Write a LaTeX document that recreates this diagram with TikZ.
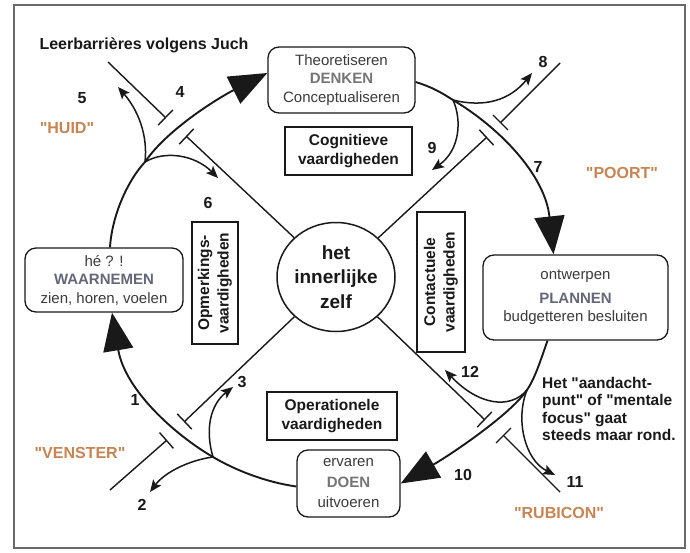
\documentclass[tikz,border=0pt]{standalone}
\usepackage{fontspec}
\setmainfont{Liberation Sans}[Ligatures=TeXOff]
\usetikzlibrary{arrows.meta,shapes.geometric}
\definecolor{framegray}{RGB}{105,105,105}
\definecolor{wordgray}{RGB}{100,103,122}
\definecolor{orangelbl}{RGB}{200,132,82}
\definecolor{ink}{RGB}{25,25,25}
\begin{document}
\begin{tikzpicture}[x=1pt,y=-1pt,
  cycleline/.style={line width=1.9pt, draw=ink},
  bigarrow/.style={-{Triangle[length=38pt,width=30pt]}},
  branch/.style={line width=1.5pt, draw=ink, -{Stealth[length=12pt,width=10pt,inset=2.5pt]}},
  barrier/.style={line width=1.4pt, draw=ink},
  stagebox/.style={draw=ink, line width=1.3pt, rounded corners=11pt, align=center, inner sep=0pt, text=ink!85, font=\fontsize{15}{18.5}\selectfont},
  skillbox/.style={draw=ink, line width=1.3pt, align=center, inner sep=0pt, text=ink, font=\bfseries\fontsize{15.5}{19.5}\selectfont},
  num/.style={font=\bfseries\fontsize{16}{19}\selectfont, text=ink, inner sep=0pt},
  gate/.style={font=\bfseries\fontsize{16}{19}\selectfont, text=orangelbl, inner sep=0pt}
]
\useasboundingbox (0,0) rectangle (690,552);
\fill[white] (0,0) rectangle (690,552);
\draw[framegray, line width=1.6pt] (14,5) rectangle (685,548);

% title
\node[font=\bfseries\fontsize{16}{19}\selectfont, text=ink, inner sep=0pt] (title) at (144,45) {Leerbarrières volgens Juch};

% stage boxes
\node[stagebox, minimum width=158pt, minimum height=64pt] (waar) at (104,280)
  {hé ? !\\{\color{wordgray}\bfseries WAARNEMEN}\\zien, horen, voelen};
\node[stagebox, minimum width=147pt, minimum height=66pt] (denk) at (341.5,80)
  {Theoretiseren\\{\color{ink!60}\bfseries DENKEN}\\Conceptualiseren};
\node[stagebox, minimum width=185pt, minimum height=85pt] (plan) at (575.5,297.5)
  {ontwerpen\\[5pt]{\color{wordgray}\bfseries PLANNEN}\\budgetteren besluiten};
\node[stagebox, minimum width=103pt, minimum height=67pt] (doen) at (348.5,483.5)
  {ervaren\\[2pt]{\color{ink!60}\bfseries DOEN}\\[2pt]uitvoeren};

% skill boxes
\node[skillbox, minimum width=127pt, minimum height=48pt] (cogn) at (348.5,151) {Cognitieve\\vaardigheden};
\node[skillbox, rotate=90, minimum width=122pt, minimum height=46pt] (opm) at (215,283) {Opmerkings-\\vaardigheden};
\node[skillbox, rotate=90, minimum width=140pt, minimum height=48pt] (cont) at (441,282) {Contactuele\\vaardigheden};
\node[skillbox, minimum width=130pt, minimum height=48pt] (oper) at (332,416) {Operationele\\vaardigheden};

% centre
\node[ellipse, draw=ink, line width=1.5pt, minimum width=118pt, minimum height=109pt, inner sep=0pt, align=center,
  font=\bfseries\fontsize{19}{24.5}\selectfont, text=ink] (self) at (336,277) {het\\innerlijke\\zelf};

% junctions and free ends
\coordinate (J1) at (145,162);
\coordinate (J2) at (453,100);
\coordinate (J3) at (527,390);
\coordinate (J4) at (213,457);

\coordinate (bULi) at (186,136); \coordinate (bULo) at (166,118); \coordinate (eUL) at (108,62);
\coordinate (bURi) at (487,137); \coordinate (bURo) at (500,123); \coordinate (eUR) at (560,63);
\coordinate (bLRi) at (485,420); \coordinate (bLRo) at (503,435); \coordinate (eLR) at (560,492);
\coordinate (bLLi) at (184,422); \coordinate (bLLo) at (167,440); \coordinate (eLL) at (110,490);

\coordinate (t5) at (118,87);
\coordinate (t6) at (218,178);
\coordinate (t8) at (532,73);
\coordinate (t9) at (432,170);
\coordinate (t12) at (445,370);
\coordinate (t11) at (555,475);
\coordinate (t3) at (233,387);
\coordinate (t2) at (150,492);

% main cycle
\draw[cycleline, bigarrow] ([xshift=6pt]waar.north) .. controls (112,215) and (128,180) .. (J1)
  .. controls (168,128) and (222,96) .. ([yshift=7pt]denk.west);
\draw[cycleline, bigarrow] ([yshift=-2pt]denk.east) .. controls (435,88) and (445,95) .. (J2)
  .. controls (500,128) and (545,175) .. ([xshift=-22pt]plan.north);
\draw[cycleline, bigarrow] ([xshift=-28pt]plan.south) .. controls (540,362) and (535,378) .. (J3)
  .. controls (510,415) and (450,455) .. (doen.east);
\draw[cycleline, bigarrow] ([yshift=-3pt]doen.west) .. controls (265,482) and (235,470) .. (J4)
  .. controls (175,435) and (125,390) .. ([xshift=8pt]waar.south);

% branches
\draw[branch] (J1) .. controls (148,135) and (138,110) .. (t5);
\draw[branch] (J1) .. controls (165,150) and (195,155) .. (t6);
\draw[branch] (J2) .. controls (485,108) and (510,100) .. (t8);
\draw[branch] (J2) .. controls (462,120) and (460,150) .. (t9);
\draw[branch] (J3) .. controls (510,410) and (478,405) .. (t12);
\draw[branch] (J3) .. controls (515,420) and (525,460) .. (t11);
\draw[branch] (J4) .. controls (205,430) and (210,405) .. (t3);
\draw[branch] (J4) .. controls (190,460) and (165,472) .. (t2);

% barriers
\draw[barrier, -{Bar[width=21pt]}] (self) -- (bULi);
\draw[barrier, {Bar[width=21pt]}-] (bULo) -- (eUL);
\draw[barrier, -{Bar[width=21pt]}] (self) -- (bURi);
\draw[barrier, {Bar[width=21pt]}-] (bURo) -- (eUR);
\draw[barrier, -{Bar[width=21pt]}] (self) -- (bLRi);
\draw[barrier, {Bar[width=21pt]}-] (bLRo) -- (eLR);
\draw[barrier, -{Bar[width=21pt]}] (self) -- (bLLi);
\draw[barrier, {Bar[width=21pt]}-] (bLLo) -- (eLL);

% numbers
\node[num] (n1) at (135,400) {1};
\node[num] (n2) at (142,505) {2};
\node[num] (n3) at (242,382) {3};
\node[num] (n4) at (180,92) {4};
\node[num] (n5) at (82,98) {5};
\node[num] (n6) at (208,203) {6};
\node[num] (n7) at (538,167) {7};
\node[num] (n8) at (543,62) {8};
\node[num] (n9) at (432,148) {9};
\node[num] (n10) at (463,475) {10};
\node[num] (n11) at (575,482) {11};
\node[num] (n12) at (470,372) {12};

% gates
\node[gate] (huid) at (67,128) {"HUID"};
\node[gate] (poort) at (622,173) {"POORT"};
\node[gate] (venster) at (80,453) {"VENSTER"};
\node[gate] (rubicon) at (559,513) {"RUBICON"};

% focus note
\node[anchor=north west, align=left, inner sep=0pt, text=ink,
  font=\bfseries\fontsize{15.5}{17.5}\selectfont] (focus) at (542,377)
  {Het "aandacht-\\punt" of "mentale\\focus" gaat\\steeds maar rond.};
\end{tikzpicture}
\end{document}
